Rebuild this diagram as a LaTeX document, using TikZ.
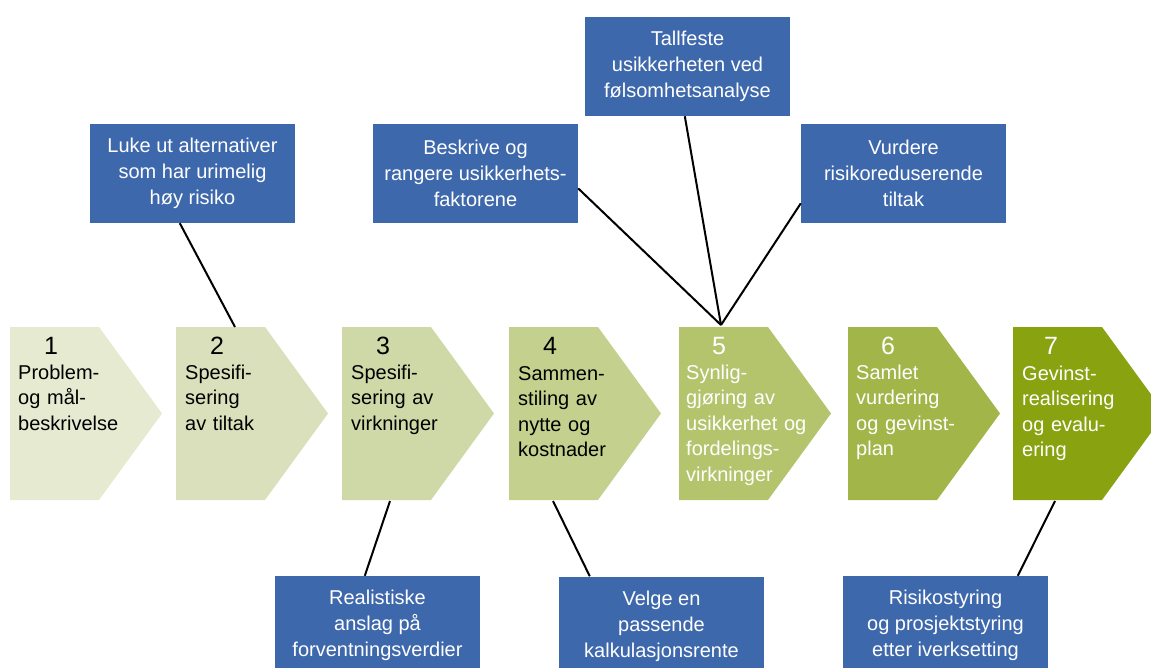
\documentclass[tikz,border=0pt]{standalone}
\usepackage{fontspec}
\setmainfont{Liberation Sans}
\usetikzlibrary{calc}
\definecolor{cA}{RGB}{229,234,208}
\definecolor{cB}{RGB}{218,224,188}
\definecolor{cC}{RGB}{207,217,167}
\definecolor{cD}{RGB}{196,208,142}
\definecolor{cE}{RGB}{179,196,109}
\definecolor{cF}{RGB}{161,181,73}
\definecolor{cG}{RGB}{136,162,16}
\definecolor{boxblue}{RGB}{62,104,172}
\newcommand\chevshape[2]{\fill[#2] (#1,327) -- ++(89,0) -- ++(63,86.5) -- ++(-63,86.5) -- ++(-89,0) -- cycle;}
\begin{document}
\begin{tikzpicture}[x=1pt,y=-1pt,
  chevtext/.style={anchor=base west, text width=150pt, align=left, inner sep=0pt, font=\fontsize{20}{25.5}\selectfont},
  num/.style={anchor=base, inner sep=0pt, font=\fontsize{25}{30}\selectfont},
  bluebox/.style={fill=boxblue, text=white, minimum width=205pt, minimum height=99pt, inner sep=0pt, align=center, font=\fontsize{20}{26}\selectfont},
  link/.style={line width=2pt, black}]
\useasboundingbox (0,0) rectangle (1151,668);
\clip (0,0) rectangle (1151,668);
% chevrons
\chevshape{10}{cA}
\chevshape{176}{cB}
\chevshape{342}{cC}
\chevshape{509}{cD}
\chevshape{679}{cE}
\chevshape{848}{cF}
\chevshape{1013}{cG}
% connection points on chevrons
\coordinate (c2top) at (235,327);
\coordinate (c5top) at (721,325);
\coordinate (c3bot) at (390,501);
\coordinate (c4bot) at (553,501);
\coordinate (c7bot) at (1055,501);
% numbers
\node[num] (n1) at (51,354) {1};
\node[num] (n2) at (217,354) {2};
\node[num] (n3) at (383,354) {3};
\node[num] (n4) at (550,354) {4};
\node[num, text=white] (n5) at (719,354) {5};
\node[num, text=white] (n6) at (888,354) {6};
\node[num, text=white] (n7) at (1051,354) {7};
% chevron texts
\node[chevtext] (t1) at (18,379) {Problem-\\og mål-\\beskrivelse};
\node[chevtext] (t2) at (185,379) {Spesifi-\\sering\\av tiltak};
\node[chevtext] (t3) at (351,379) {Spesifi-\\sering av\\virkninger};
\node[chevtext] (t4) at (518,380) {Sammen-\\stiling av\\nytte og\\kostnader};
\node[chevtext, text=white] (t5) at (686,379) {Synlig-\\gjøring av\\usikkerhet og\\fordelings-\\virkninger};
\node[chevtext, text=white] (t6) at (856,379) {Samlet\\vurdering\\og gevinst-\\plan};
\node[chevtext, text=white] (t7) at (1022,380) {Gevinst-\\realisering\\og evalu-\\ering};
% blue boxes
\node[bluebox] (luke) at (192.5,173.5) {Luke ut alternativer\\som har urimelig\\høy risiko};
\node[bluebox] (besk) at (475.5,173.5) {Beskrive og\\rangere usikkerhets-\\faktorene};
\node[bluebox] (tall) at (687.5,66.5) {Tallfeste\\usikkerheten ved\\følsomhetsanalyse};
\node[bluebox] (vurd) at (903.5,173.5) {Vurdere\\risikoreduserende\\tiltak};
\node[bluebox] (real) at (377.5,625.5) {Realistiske\\anslag på\\forventningsverdier};
\node[bluebox] (velg) at (661.5,626) {Velge en\\passende\\kalkulasjonsrente};
\node[bluebox] (risk) at (945.5,625.5) {Risikostyring\\og prosjektstyring\\etter iverksetting};
% connectors
\draw[link] ($(luke.south west)+(90,0)$) -- (c2top);
\draw[link] ($(besk.north east)!0.65!(besk.south east)$) -- (c5top);
\draw[link] ($(tall.south west)+(100,0)$) -- (c5top);
\draw[link] ($(vurd.north west)!0.8!(vurd.south west)$) -- (c5top);
\draw[link] (c3bot) -- ($(real.north west)+(90,0)$);
\draw[link] (c4bot) -- ($(velg.north west)+(31,0)$);
\draw[link] (c7bot) -- ($(risk.north west)+(175,0)$);
\end{tikzpicture}
\end{document}
